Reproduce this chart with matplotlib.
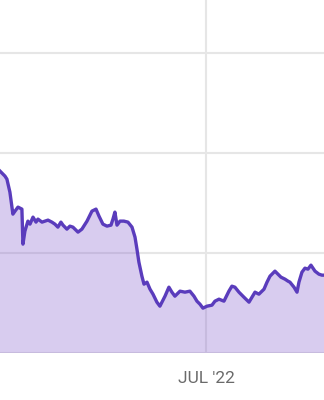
import numpy as np
import pandas as pd
import matplotlib
matplotlib.use("Agg")
import matplotlib.pyplot as plt

# days relative to 1 Jul 2022, and the series value on that day
day_offset = [
    -137.3, -134.0, -132.7, -130.7, -128.7, -127.3, -125.3, -122.7, -122.0, -120.7,
    -118.7, -117.3, -115.3, -113.3, -112.0, -109.3, -107.3, -105.3, -102.7, -100.7,
    -98.7, -96.7, -95.3, -92.7, -90.7, -88.7, -85.3, -82.7, -79.3, -76.0,
    -73.3, -71.3, -68.7, -66.0, -63.3, -62.0, -60.7, -59.3, -57.3, -54.7,
    -52.0, -49.3, -47.3, -46.0, -44.7, -42.7, -41.3, -39.3, -37.3, -35.3,
    -32.7, -30.7, -27.3, -24.7, -22.7, -20.7, -17.3, -14.0, -10.7, -8.0,
    -6.0, -4.0, -2.0, 0.7, 4.0, 6.0, 8.7, 12.0, 15.3, 17.3,
    19.3, 22.0, 25.3, 28.7, 30.7, 32.7, 35.3, 38.7, 40.7, 42.7,
    46.0, 48.0, 50.0, 52.7, 54.7, 56.0, 58.7, 60.7, 62.0, 64.0,
    66.0, 68.0, 70.0, 72.7, 75.3, 77.3, 78.7,
]
values = [
    18.2, 17.7, 17.4, 16.1, 13.9, 14.2, 14.6, 14.4, 10.9, 12.2,
    13.2, 12.9, 13.6, 13.1, 13.4, 13.1, 13.2, 13.3, 13.1, 12.9,
    12.6, 13.1, 12.8, 12.4, 12.7, 12.6, 12.1, 12.4, 13.2, 14.2,
    14.4, 13.7, 12.9, 12.7, 12.8, 13.4, 14.1, 12.8, 13.2, 13.2,
    13.1, 12.6, 11.6, 10.4, 9.1, 7.7, 6.9, 7.1, 6.4, 5.9,
    5.1, 4.7, 5.7, 6.6, 6.1, 5.7, 6.2, 6.1, 6.2, 5.7,
    5.2, 4.9, 4.5, 4.7, 4.8, 5.2, 5.4, 5.2, 6.2, 6.7,
    6.6, 6.1, 5.6, 5.1, 5.6, 6.1, 5.9, 6.4, 7.1, 7.7,
    8.2, 7.9, 7.6, 7.4, 7.2, 7.1, 6.6, 6.1, 7.1, 8.1,
    8.5, 8.4, 8.8, 8.2, 7.9, 7.8, 7.8,
]
x_ticks = ["2022-07-01"]
x_tick_labels = ["JUL '22"]
y_grid = [0, 10, 20, 30]

start = pd.Timestamp("2022-07-01")
dates = [start + pd.Timedelta(days=d) for d in day_offset]

fig = plt.figure(figsize=(3.24, 4.0), dpi=100)
ax = fig.add_axes([0, 0.117, 1, 0.883])

ax.fill_between(dates, values, 0, color="#8058cd", alpha=0.3, lw=0, zorder=2)
ax.plot(dates, values, color="#5a3cbc", lw=2.4, solid_joinstyle="round", zorder=3)

for v in y_grid:
    ax.axhline(v, color="#e6e6e6", lw=1.5, zorder=1)
for t in x_ticks:
    ax.axvline(pd.Timestamp(t), color="#e6e6e6", lw=1.5, zorder=1)

ax.set_xlim(dates[0], dates[-1])
ax.set_ylim(0, 35.3)
ax.set_xticks([pd.Timestamp(t) for t in x_ticks])
ax.set_xticklabels(x_tick_labels, fontsize=12.5, color="#6a6a6a", family="Roboto")
ax.tick_params(axis="x", length=0, pad=13)
ax.set_yticks([])
for s in ax.spines.values():
    s.set_visible(False)

fig.savefig("out.png", dpi=100)
